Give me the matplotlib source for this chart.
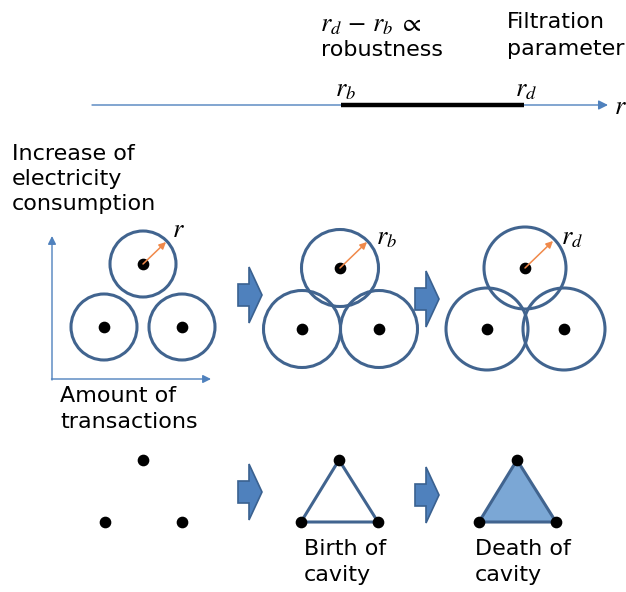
import matplotlib
matplotlib.use("Agg")
import matplotlib.pyplot as plt
from matplotlib import patches

plt.rcParams['font.family'] = ['DejaVu Sans']
plt.rcParams['mathtext.fontset'] = 'stix'

# ---------------- data (pixel layout of the diagram) ----------------
panel_centers_x = [[143, 104, 182], [340, 302, 379], [525, 487, 564]]
panel_centers_y = [[264, 327, 327], [268, 329, 329], [268, 329, 329]]
panel_radii = [33, 38.5, 41]
radius_labels = [r'$r$', r'$r_b$', r'$r_d$']
radius_tips_x = [166, 367, 553]
radius_tips_y = [242, 242, 241]
radius_label_x = [172, 376, 561]
radius_label_y = [230, 237, 237]

simplex_x = [[143, 105, 182], [339, 301, 378], [517, 479, 556]]
simplex_y = [[460, 522, 522], [460, 522, 522], [460, 522, 522]]
simplex_edges = [False, True, True]
simplex_fill = [False, False, True]
simplex_captions = [None, 'Birth of\ncavity', 'Death of\ncavity']
caption_x = [None, 304, 475]

block_arrow_x = [238, 415, 238, 415]
block_arrow_y = [295, 299, 492, 495]

filtration_start, filtration_end = 92, 608
r_b, r_d = 341, 524

BLUE = '#4f81bd'
EDGE = '#41648f'
ORANGE = '#f0894a'
FILL = '#7ba7d5'

fig = plt.figure(figsize=(6.26, 5.92), dpi=100)
ax = fig.add_axes([0, 0, 1, 1])
ax.set_xlim(0, 626)
ax.set_ylim(592, 0)
ax.axis('off')

FS = 16.0
MFS = 19
LS = 1.32

# ---- filtration axis ----
ax.annotate('', xy=(filtration_end, 105), xytext=(filtration_start, 105),
            arrowprops=dict(arrowstyle='-|>', color=BLUE, lw=1.0,
                            mutation_scale=14, shrinkA=0, shrinkB=0))
ax.plot([r_b, r_d], [105, 105], color='black', lw=3.2,
        solid_capstyle='butt', zorder=4)
ax.text(335, 89, r'$r_b$', fontsize=MFS, va='center', ha='left')
ax.text(515, 89, r'$r_d$', fontsize=MFS, va='center', ha='left')
ax.text(614, 107, r'$r$', fontsize=MFS, va='center', ha='left')
ax.text(320, 24, r'$r_d\,-\,r_b\;\propto$', fontsize=MFS, va='center', ha='left')
ax.text(321, 50, 'robustness', fontsize=FS, va='center', ha='left')
ax.text(507, 22, 'Filtration', fontsize=FS, va='center', ha='left')
ax.text(507, 49, 'parameter', fontsize=FS, va='center', ha='left')

# ---- data space axes ----
ax.annotate('', xy=(52, 236), xytext=(52, 380),
            arrowprops=dict(arrowstyle='-|>', color=BLUE, lw=1.0,
                            mutation_scale=12, shrinkA=0, shrinkB=0))
ax.annotate('', xy=(211, 379), xytext=(51.5, 379),
            arrowprops=dict(arrowstyle='-|>', color=BLUE, lw=1.0,
                            mutation_scale=12, shrinkA=0, shrinkB=0))
ax.text(12, 179, 'Increase of\nelectricity\nconsumption', fontsize=FS,
        va='center', ha='left', linespacing=LS)
ax.text(60, 409, 'Amount of\ntransactions', fontsize=FS, va='center',
        ha='left', linespacing=LS)

# ---- balls ----
for cx, cy, rad, lab, tx, ty, lx, ly in zip(panel_centers_x, panel_centers_y,
                                             panel_radii, radius_labels,
                                             radius_tips_x, radius_tips_y,
                                             radius_label_x, radius_label_y):
    for x, y in zip(cx, cy):
        ax.add_patch(patches.Circle((x, y), rad, fill=False, ec=EDGE, lw=2.2))
    ax.plot(cx, cy, 'o', color='black', ms=7.4)
    ax.annotate('', xy=(tx, ty), xytext=(cx[0], cy[0]),
                arrowprops=dict(arrowstyle='-|>', color=ORANGE, lw=1.1,
                                mutation_scale=10, shrinkA=0, shrinkB=0))
    ax.text(lx, ly, lab, fontsize=MFS, va='center', ha='left')

# ---- simplices ----
for sx, sy, edges, filled, cap, capx in zip(simplex_x, simplex_y, simplex_edges,
                                             simplex_fill, simplex_captions, caption_x):
    if edges:
        ax.add_patch(patches.Polygon(list(zip(sx, sy)), closed=True,
                                     fc=FILL if filled else 'none',
                                     ec=EDGE, lw=2.2, joinstyle='round'))
    ax.plot(sx, sy, 'o', color='black', ms=7.4, zorder=5)
    if cap:
        ax.text(capx, 562, cap, fontsize=FS, va='center', ha='left',
                linespacing=LS)

# ---- block arrows ----
for bx, by in zip(block_arrow_x, block_arrow_y):
    ax.add_patch(patches.FancyArrow(bx, by, 24, 0, width=22, head_width=56,
                                    head_length=13, length_includes_head=True,
                                    fc=BLUE, ec='#3a6190', lw=1.2))

fig.savefig('out.png', dpi=100)
